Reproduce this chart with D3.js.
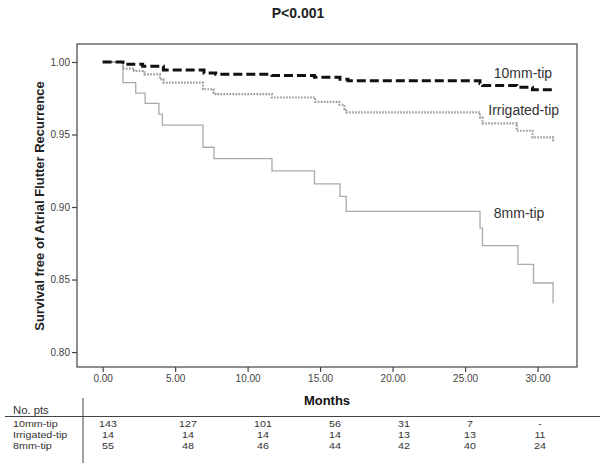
<!DOCTYPE html>
<html><head><meta charset="utf-8">
<script src="https://cdn.jsdelivr.net/npm/d3@7"></script>
<style>body{margin:0;background:#fff}svg{display:block;font-family:"Liberation Sans",Arial,sans-serif}</style>
</head><body>
<svg id="c" width="600" height="465"></svg>
<script>
// ---- data ----
const seriesNames = ["10mm-tip", "Irrigated-tip", "8mm-tip"];
const times10 = [0, 1.40, 2.76, 4.19, 6.99, 7.80, 11.68, 14.61, 16.37, 16.92, 26.03, 26.20, 28.57, 29.65, 31.07];
const surv10  = [1.000, 0.9984, 0.9970, 0.9945, 0.9924, 0.9915, 0.9906, 0.9895, 0.9881, 0.9870, 0.9851, 0.9838, 0.9826, 0.9808, 0.9794];
const timesIrr = [0, 1.40, 2.17, 2.88, 3.95, 4.19, 6.92, 7.64, 7.80, 11.68, 14.66, 16.32, 16.68, 16.80, 26.03, 26.20, 28.57, 29.65, 31.07];
const survIrr  = [1.000, 0.9954, 0.9938, 0.9915, 0.9881, 0.9858, 0.9812, 0.9789, 0.9778, 0.9755, 0.9725, 0.9705, 0.9675, 0.9652, 0.9618, 0.9577, 0.9526, 0.9480, 0.9446];
const times8 = [0, 1.40, 2.28, 2.93, 3.88, 4.12, 6.92, 7.68, 11.68, 14.61, 16.37, 16.80, 26.03, 26.20, 28.65, 29.72, 31.07];
const surv8  = [1.000, 0.9858, 0.9785, 0.9714, 0.9641, 0.9565, 0.9412, 0.9334, 0.9249, 0.9160, 0.9073, 0.8970, 0.8855, 0.8734, 0.8605, 0.8476, 0.8335];
const xTicks = [0, 5, 10, 15, 20, 25, 30];
const yTicks = [0.80, 0.85, 0.90, 0.95, 1.00];
const tableHeader = "No. pts";
const atRisk10  = ["143", "127", "101", "56", "31", "7", "-"];
const atRiskIrr = ["14", "14", "14", "14", "13", "13", "11"];
const atRisk8   = ["55", "48", "46", "44", "42", "40", "24"];
const titleText = "P<0.001";
const xTitle = "Months";
const yTitle = "Survival free of Atrial Flutter Recurrence";

// ---- layout ----
const svg = d3.select("#c");
const L = 77, R = 577, T = 44, B = 367;
const x = d3.scaleLinear().domain([-1.77, 32.72]).range([L, R]);
const y = d3.scaleLinear().domain([0.7897, 1.0124]).range([B, T]);

svg.append("text").attr("x", 298).attr("y", 18).attr("text-anchor", "middle")
  .attr("font-size", 14).attr("font-weight", "bold").attr("fill", "#222").text(titleText);

// frame
svg.append("rect").attr("x", L).attr("y", T).attr("width", R - L).attr("height", B - T)
  .attr("fill", "none").attr("stroke", "#444").attr("stroke-width", 1.2);

const fmt = d3.format(".2f");
const gx = svg.append("g").attr("transform", `translate(0,${B})`)
  .call(d3.axisBottom(x).tickValues(xTicks).tickFormat(fmt).tickSize(5).tickPadding(3));
const gy = svg.append("g").attr("transform", `translate(${L},0)`)
  .call(d3.axisLeft(y).tickValues(yTicks).tickFormat(fmt).tickSize(5).tickPadding(2));
[gx, gy].forEach(g => {
  g.select(".domain").remove();
  g.selectAll(".tick line").attr("stroke", "#444").attr("stroke-width", 1.2);
  g.selectAll(".tick text").attr("fill", "#444").attr("font-size", 10)
    .attr("font-family", "'Liberation Sans',Arial,sans-serif");
});

svg.append("text").attr("transform", "translate(44,206) rotate(-90)").attr("text-anchor", "middle")
  .attr("font-size", 13).attr("font-weight", "bold").attr("fill", "#222").text(yTitle);
svg.append("text").attr("x", 327).attr("y", 405).attr("text-anchor", "middle")
  .attr("font-size", 13).attr("font-weight", "bold").attr("fill", "#111").text(xTitle);

// curves
const line = d3.line().x(d => x(d[0])).y(d => y(d[1])).curve(d3.curveStepAfter);
const curves = [
  {t: times8, s: surv8, stroke: "#aaa", w: 1.3, dash: null},
  {t: timesIrr, s: survIrr, stroke: "#999", w: 2.2, dash: "1.6,1.4"},
  {t: times10, s: surv10, stroke: "#111", w: 3, dash: "9,4"}
];
curves.forEach(c => {
  svg.append("path").datum(c.t.map((t, i) => [t, c.s[i]]))
    .attr("d", line).attr("fill", "none").attr("stroke", c.stroke)
    .attr("stroke-width", c.w).attr("stroke-dasharray", c.dash);
});

// curve labels
const labelPos = [[26.98, 0.9925], [26.6, 0.9668], [26.98, 0.8958]];
seriesNames.forEach((n, i) => {
  svg.append("text").attr("x", x(labelPos[i][0])).attr("y", y(labelPos[i][1]) + 5)
    .attr("font-size", 14).attr("fill", "#333").text(n);
});

// at-risk table
svg.append("line").attr("x1", 5).attr("x2", 600).attr("y1", 416.5).attr("y2", 416.5)
  .attr("stroke", "#444").attr("stroke-width", 1);
svg.append("line").attr("x1", 83).attr("x2", 83).attr("y1", 398).attr("y2", 463)
  .attr("stroke", "#444").attr("stroke-width", 1);
const tText = (tx, ty, s, anchor, fs) => svg.append("text")
  .attr("transform", `translate(${tx},${ty}) scale(1.13,1)`)
  .attr("text-anchor", anchor).attr("font-size", fs).attr("fill", "#333").text(s);
tText(13, 413.5, tableHeader, "start", 10);
const colX = [108, 188, 263, 335, 404, 470, 540];
const rows = [atRisk10, atRiskIrr, atRisk8];
rows.forEach((r, ri) => {
  const yy = 426.5 + ri * 11;
  tText(13, yy, seriesNames[ri], "start", 9.5);
  r.forEach((v, ci) => tText(colX[ci], yy, v, "middle", 9.5));
});
</script>
</body></html>
